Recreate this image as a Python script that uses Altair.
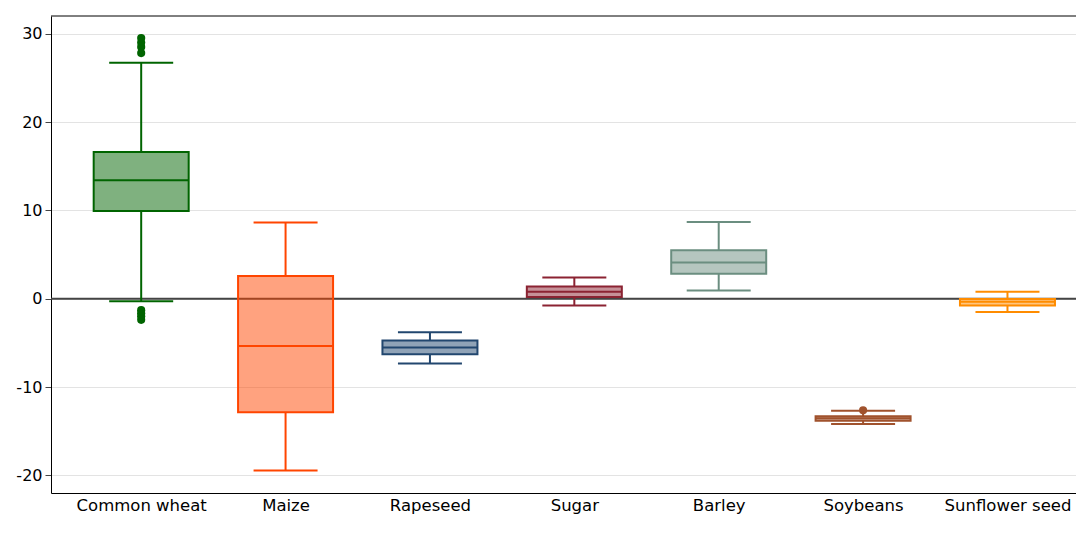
import json
import altair as alt
import pandas as pd

categories = ["Common wheat", "Maize", "Rapeseed", "Sugar", "Barley", "Soybeans", "Sunflower seed"]
lower = [-0.3, -19.45, -7.33, -0.78, 0.92, -14.2, -1.5]
q1 = [9.93, -12.85, -6.28, 0.18, 2.82, -13.82, -0.78]
median = [13.4, -5.35, -5.53, 0.77, 4.1, -13.55, -0.36]
q3 = [16.6, 2.56, -4.73, 1.37, 5.48, -13.3, -0.04]
upper = [26.7, 8.62, -3.79, 2.4, 8.68, -12.68, 0.77]

outlier_cat = ["Common wheat"] * 8 + ["Soybeans"]
outlier_val = [29.5, 29.0, 28.5, 27.8, -1.3, -1.65, -2.0, -2.4, -12.64]

box_colors = ["#006400", "#ff4500", "#22476f", "#8b2332", "#6b8e80", "#a0522d", "#ff8c00"]
y_ticks = [-20, -10, 0, 10, 20, 30]

W, H = 1025, 477

idx = list(range(len(categories)))
stats = pd.DataFrame({"idx": idx, "cat": categories, "lower": lower, "q1": q1,
                      "median": median, "q3": q3, "upper": upper})
outl = pd.DataFrame({"idx": [categories.index(c) for c in outlier_cat],
                     "cat": outlier_cat, "value": outlier_val})

color = alt.Color("cat:N", scale=alt.Scale(domain=categories, range=box_colors), legend=None)

x_scale = alt.Scale(domain=[-0.59, 6.44], nice=False, zero=False)
x_axis = alt.Axis(values=idx, labelExpr=f"{json.dumps(categories)}[datum.value]", title=None,
                  grid=False, ticks=False, domain=True, domainColor="#000", domainWidth=1,
                  labelPadding=4, labelAngle=0, labelFontSize=16.5)
y_scale = alt.Scale(domain=[-22, 32], nice=False, zero=False)
y_axis = alt.Axis(values=y_ticks, labelExpr="'' + datum.value", title=None, grid=True,
                  gridColor="#e3e3e3", gridWidth=1, tickSize=6, tickColor="#444",
                  domainColor="#000", domainWidth=1, labelPadding=3, labelFontSize=16)


def xs():
    return alt.X("idx:Q", scale=x_scale, axis=x_axis)


def ys(field):
    return alt.Y(field, scale=y_scale, axis=y_axis)


base = alt.Chart(stats)

zero_line = alt.Chart(pd.DataFrame({"zero": [0]})).mark_rule(color="#444", strokeWidth=2).encode(
    y=ys("zero:Q"))

top_frame = alt.Chart(pd.DataFrame({"zero": [0]})).mark_rule(color="#000", strokeWidth=1).encode(
    x=alt.value(0), x2=alt.value(W), y=alt.value(0))

whisk_lo = base.mark_rule(strokeWidth=2, opacity=1).encode(x=xs(), y=ys("lower:Q"), y2="q1:Q", color=color)
whisk_hi = base.mark_rule(strokeWidth=2, opacity=1).encode(x=xs(), y=ys("q3:Q"), y2="upper:Q", color=color)
cap_lo = base.mark_tick(orient="horizontal", size=64, thickness=2, opacity=1).encode(
    x=xs(), y=ys("lower:Q"), color=color)
cap_hi = base.mark_tick(orient="horizontal", size=64, thickness=2, opacity=1).encode(
    x=xs(), y=ys("upper:Q"), color=color)
box = base.mark_bar(size=95, fillOpacity=0.5, strokeWidth=2, strokeOpacity=1).encode(
    x=xs(), y=ys("q1:Q"), y2="q3:Q", fill=color, stroke=color)
med = base.mark_tick(orient="horizontal", size=95, thickness=2, opacity=1).encode(
    x=xs(), y=ys("median:Q"), color=color)
pts = alt.Chart(outl).mark_circle(size=66, opacity=1).encode(x=xs(), y=ys("value:Q"), color=color)

chart = alt.layer(zero_line, whisk_lo, whisk_hi, cap_lo, cap_hi, box, med, pts, top_frame).properties(
    width=W, height=H,
    autosize=alt.AutoSizeParams(type="none"),
    padding={"left": 43, "top": 8, "right": 0, "bottom": 25},
    background="white",
).configure_view(stroke=None).configure_axis(
    labelFont="DejaVu Sans", labelColor="#000"
)

chart.save("out.html", embed_options={"renderer": "svg", "actions": False})
